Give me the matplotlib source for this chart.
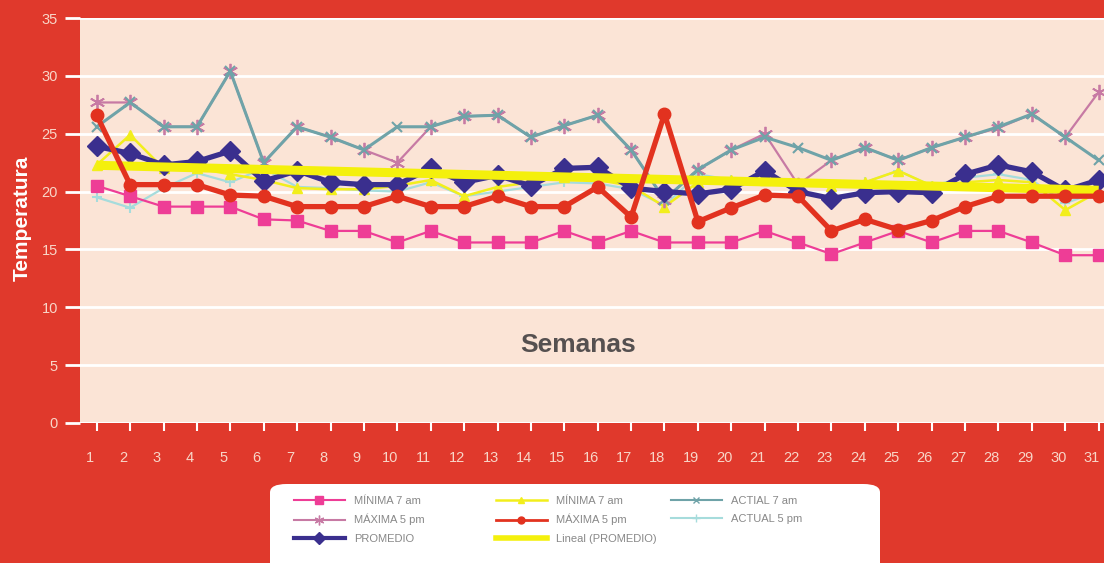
import numpy as np
import matplotlib
matplotlib.use("Agg")
import matplotlib.pyplot as plt
import matplotlib.transforms as mtransforms
from matplotlib.patches import FancyBboxPatch
from matplotlib.lines import Line2D

plt.rcParams['font.family'] = ['Liberation Sans', 'DejaVu Sans']

weeks = list(range(1, 32))
minima_7am = [20.5, 19.6, 18.7, 18.7, 18.7, 17.6, 17.5, 16.6, 16.6, 15.6, 16.6, 15.6, 15.6, 15.6, 16.6, 15.6,
              16.6, 15.6, 15.6, 15.6, 16.6, 15.6, 14.6, 15.6, 16.6, 15.6, 16.6, 16.6, 15.6, 14.5, 14.5]
minima_7am_b = [22.3, 24.9, 22.0, 22.0, 21.5, 21.0, 20.3, 20.2, 20.2, 20.5, 21.0, 19.6, 20.4, 20.8, 21.3, 21.0,
                20.5, 18.7, 20.8, 21.0, 21.0, 20.5, 20.5, 20.8, 21.8, 20.5, 20.8, 21.0, 20.8, 18.4, 20.0]
maxima_5pm_a = [27.7, 27.7, 25.6, 25.6, 30.4, 22.5, 25.6, 24.7, 23.6, 22.5, 25.6, 26.5, 26.6, 24.7, 25.7, 26.6,
                23.6, 19.3, 21.9, 23.6, 25.0, 20.6, 22.7, 23.8, 22.7, 23.8, 24.7, 25.5, 26.7, 24.7, 28.6]
maxima_5pm = [26.6, 20.6, 20.6, 20.6, 19.7, 19.6, 18.7, 18.7, 18.7, 19.6, 18.7, 18.7, 19.6, 18.7, 18.7, 20.4,
              17.8, 26.7, 17.4, 18.6, 19.7, 19.6, 16.6, 17.6, 16.7, 17.5, 18.7, 19.6, 19.6, 19.6, 19.6]
actual_7am = [25.6, 27.7, 25.6, 25.6, 30.4, 22.5, 25.6, 24.7, 23.6, 25.6, 25.6, 26.5, 26.6, 24.7, 25.7, 26.6,
              23.6, 19.3, 21.9, 23.6, 24.7, 23.8, 22.7, 23.8, 22.7, 23.8, 24.7, 25.6, 26.7, 24.7, 22.7]
actual_5pm = [19.5, 18.6, 20.3, 21.6, 20.8, 22.0, 20.4, 20.3, 20.1, 20.0, 20.8, 19.6, 20.0, 20.4, 20.8, 20.7,
              20.2, 18.8, 21.5, 21.0, 21.0, 20.5, 20.5, 20.8, 21.8, 20.5, 21.2, 21.5, 21.0, 19.0, 20.0]
promedio = [23.9, 23.3, 22.3, 22.6, 23.5, 20.9, 21.8, 20.8, 20.6, 20.6, 22.0, 20.8, 21.4, 20.5, 22.0, 22.1,
            20.3, 20.0, 19.8, 20.2, 21.8, 20.0, 19.4, 19.9, 20.0, 19.9, 21.5, 22.3, 21.7, 20.1, 21.0]
y_ticks = [0, 5, 10, 15, 20, 25, 30, 35]

RED = '#e0392c'
PLOT_BG = '#fbe4d6'
TICK_COL = '#f8d6c8'

W, H = 1104, 563
fig = plt.figure(figsize=(W / 100, H / 100), dpi=100, facecolor=RED)
ax = fig.add_axes([80 / W, (H - 423) / H, 1035.4 / W, 405 / H])
ax.set_facecolor(PLOT_BG)

x = np.array(weeks)
ax.plot(x, actual_5pm, color='#a6dcdc', lw=1.6, marker='+', ms=7, mew=1.5, zorder=2.0)
ax.plot(x, minima_7am_b, color='#f2ee1c', lw=1.8, marker='^', ms=7, zorder=2.1)
ax.plot(x, maxima_5pm_a, color='#c77aa4', lw=1.6, marker=(6, 2, 0), ms=11, mew=1.3, zorder=2.2)
ax.plot(x, actual_7am, color='#6fa3a8', lw=2.2, marker='x', ms=7, mew=1.5, zorder=2.3)
ax.plot(x, minima_7am, color='#ee3d96', lw=1.6, marker='s', ms=9, zorder=2.4)
ax.plot(x, promedio, color='#3a2f8e', lw=3.8, marker='D', ms=10, zorder=2.5)
coef = np.polyfit(x, promedio, 1)
ax.plot(x, np.polyval(coef, x), color='#f4f00c', lw=6.5, solid_capstyle='butt', zorder=2.6)
ax.plot(x, maxima_5pm, color='#e2321f', lw=3.8, marker='o', ms=9, zorder=2.7)

ax.set_xlim(0.5, 31.5)
ax.set_ylim(0, 35)
ax.set_yticks(y_ticks)
ax.set_xticks(weeks)
ax.set_xticklabels([str(w) for w in weeks])
for s in ax.spines.values():
    s.set_visible(False)
ax.grid(axis='y', color='white', lw=2.0, zorder=1)
ax.grid(axis='x', visible=False)
ax.axhline(0, color='white', lw=2.2, zorder=1.5)
ax.tick_params(axis='y', colors='white', length=11, width=2, pad=5, labelsize=10.5, labelcolor=TICK_COL)
ax.tick_params(axis='x', colors='white', length=6, width=1.5, pad=14, labelsize=10.5, labelcolor=TICK_COL)
offset = mtransforms.ScaledTranslation(-7 / 100, 0, fig.dpi_scale_trans)
for lab in ax.get_xticklabels():
    lab.set_transform(lab.get_transform() + offset)

ax.text(15.4, 6.7, 'Semanas', fontsize=19, fontweight='bold', color='#555050', ha='center', va='center', zorder=3)
fig.text(22 / W, (H - 218) / H, 'Temperatura', rotation=90, fontsize=15, fontweight='bold',
         color='white', ha='center', va='center')

# legend box
box = FancyBboxPatch((270 / W, -20 / H), 610 / W, (H - 484 + 20) / H,
                     boxstyle='round,pad=0,rounding_size=0.015', transform=fig.transFigure,
                     facecolor='white', edgecolor='none', zorder=5)
fig.patches.append(box)

def h(color, lw, marker=None, ms=6, mew=1.0):
    return Line2D([], [], color=color, lw=lw, marker=marker, ms=ms, mew=mew)

cols = [
    ([h('#ee3d96', 1.5, 's', 6), h('#c77aa4', 1.5, (6, 2, 0), 7), h('#3a2f8e', 3, 'D', 6)],
     ['MÍNIMA 7 am', 'MÁXIMA 5 pm', 'PROMEDIO'], 295),
    ([h('#f2ee1c', 1.8, '^', 5), h('#e2321f', 2, 'o', 5), h('#f4f00c', 4)],
     ['MÍNIMA 7 am', 'MÁXIMA 5 pm', 'Lineal (PROMEDIO)'], 497),
    ([h('#6fa3a8', 1.5, 'x', 5), h('#a6dcdc', 1.5, '+', 6)],
     ['ACTIAL 7 am', 'ACTUAL 5 pm'], 672),
]
for handles, labels, x0 in cols:
    leg = fig.legend(handles, labels, loc='upper left', bbox_to_anchor=(x0 / W - 0.006, (H - 490) / H),
                     frameon=False, fontsize=8, handlelength=4.6, handletextpad=0.8, labelspacing=0.75,
                     borderpad=0, labelcolor='#888888')
    leg.set_zorder(6)

fig.savefig('out.png', dpi=100, facecolor=RED)
